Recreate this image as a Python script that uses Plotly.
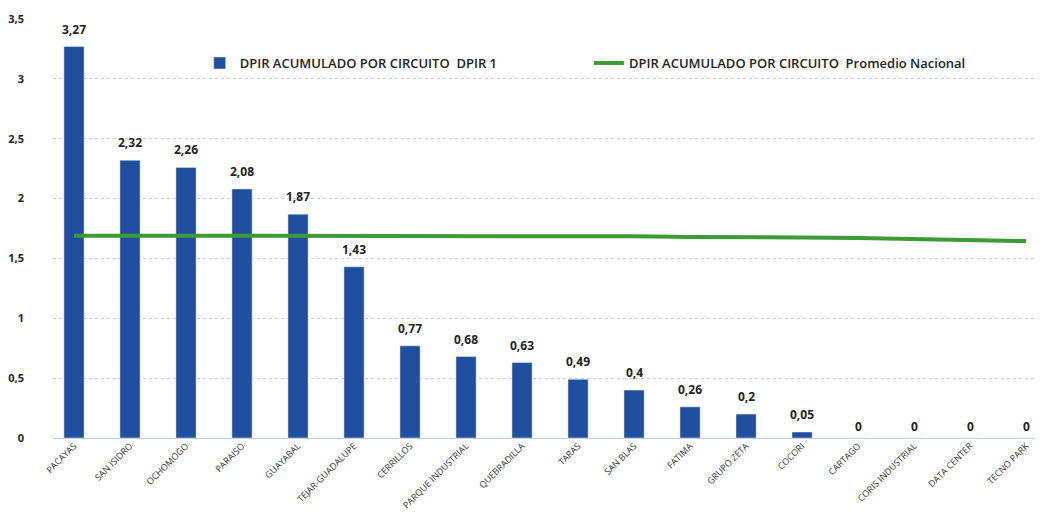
import plotly.graph_objects as go

categories = ["PACAYAS", "SAN ISIDRO", "OCHOMOGO", "PARAISO", "GUAYABAL", "TEJAR-GUADALUPE",
              "CERRILLOS", "PARQUE INDUSTRIAL", "QUEBRADILLA", "TARAS", "SAN BLAS", "FATIMA",
              "GRUPO ZETA", "COCORI", "CARTAGO", "CORIS INDUSTRIAL", "DATA CENTER", "TECNO PARK"]
dpir1 = [3.27, 2.32, 2.26, 2.08, 1.87, 1.43, 0.77, 0.68, 0.63, 0.49, 0.4, 0.26, 0.2, 0.05, 0, 0, 0, 0]
promedio = [1.69, 1.69, 1.69, 1.69, 1.69, 1.69, 1.69, 1.69, 1.69, 1.69, 1.685, 1.68, 1.68,
            1.675, 1.67, 1.66, 1.655, 1.645]
y_ticks = [0, 0.5, 1, 1.5, 2, 2.5, 3, 3.5]

bar_labels = [f"{v:g}".replace(".", ",") for v in dpir1]

fig = go.Figure()
fig.add_trace(go.Bar(
    x=categories, y=dpir1, name="DPIR ACUMULADO POR CIRCUITO  DPIR 1",
    marker=dict(color="#1f4f9e"), width=0.36,
    legend="legend",
))
fig.add_trace(go.Scatter(
    x=categories, y=promedio, mode="lines",
    name="DPIR ACUMULADO POR CIRCUITO  Promedio Nacional",
    line=dict(color="#3d9a35", width=4),
    legend="legend2",
))
for cat, val, lab in zip(categories, dpir1, bar_labels):
    fig.add_annotation(x=cat, y=val, text=lab, showarrow=False, yanchor="bottom",
                       yshift=7 if val > 0 else 1,
                       font=dict(family="Open Sans", size=12, color="#222222", weight="bold"))

leg_common = dict(orientation="h", yanchor="middle", xanchor="left",
                  font=dict(size=13, color="#222222", weight=600),
                  bgcolor="rgba(0,0,0,0)", itemwidth=30)
fig.update_layout(
    width=1043, height=526,
    margin=dict(l=45, r=0, t=11, b=96),
    paper_bgcolor="white", plot_bgcolor="white",
    separators=",.",
    font=dict(family="Open Sans", color="#333333"),
    showlegend=True,
    legend=dict(x=0.147, y=0.895, **leg_common),
    legend2=dict(x=0.537, y=0.895, **leg_common),
    xaxis=dict(range=[-0.375, 17.445], tickangle=-45, showgrid=False, showline=False,
               tickfont=dict(size=9, color="#333333"), ticks=""),
    yaxis=dict(range=[0, 3.5], tickvals=y_ticks,
               ticktext=[f"{v:g}".replace(".", ",") for v in y_ticks],
               showgrid=True, gridcolor="#c5cde0", griddash="dot", gridwidth=1,
               zeroline=True, zerolinecolor="#c5cde0", zerolinewidth=1,
               ticklabelstandoff=28,
               tickfont=dict(size=11, color="#222222", weight="bold"), ticks=""),
)
fig.write_html("out.html")
